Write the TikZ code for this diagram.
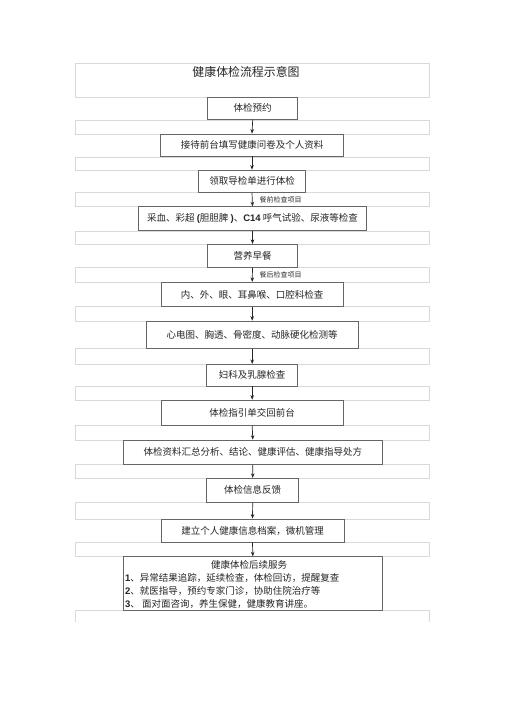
\documentclass[tikz,border=0pt]{standalone}
\usepackage{fontspec}
\setmainfont{Noto Sans CJK SC}
\newfontfamily\latinb{Liberation Sans}
\usetikzlibrary{arrows.meta}
\begin{document}
\begin{tikzpicture}[x=1bp,y=-1bp,
  bgrow/.style={draw=black!15,line width=0.8bp},
  stepbox/.style={draw=black!60,line width=0.8bp,fill=white,inner sep=0pt,
     font=\fontsize{9.5bp}{11bp}\selectfont,text=black!85},
  flow/.style={draw=black!85,line width=0.7bp,-{Stealth[length=4.5bp,width=3.6bp]}},
  note/.style={inner sep=0pt,anchor=west,font=\fontsize{7bp}{8bp}\selectfont,text=black!80},
  txt/.style={inner sep=0pt,font=\fontsize{9.5bp}{11bp}\selectfont,text=black!85}]
\useasboundingbox (0,0) rectangle (505,714);
% background table rows
\draw[bgrow] (75.7,63.3) rectangle (429,97.3);
\foreach \a/\b in {120.7/134,157.7/170,192.3/206.7,231.7/244.3,267.3/282.3,306.7/321,348.7/364.3,386/400,425.7/440,464.3/478.3,502.3/519,542/556.7}
  \draw[bgrow] (75.7,\a) rectangle (429,\b);
\draw[bgrow] (75.7,621.7) -- (75.7,610.7) -- (429,610.7) -- (429,621.7);
% title
\node[inner sep=0pt,font=\fontsize{11.9bp}{13bp}\selectfont,text=black!85] (title) at (246,71.5) {健康体检流程示意图};
% boxes
\node[stepbox,minimum width=90bp,minimum height=22bp] (b1) at (252.7,108.3) {体检预约};
\node[stepbox,minimum width=182.6bp,minimum height=22bp] (b2) at (252,145) {接待前台填写健康问卷及个人资料};
\node[stepbox,minimum width=106.6bp,minimum height=22.3bp] (b3) at (252,181.2) {领取导检单进行体检};
\node[stepbox,minimum width=228.4bp,minimum height=24bp] (b4) at (252.5,218.7) {采血、彩超 {\latinb\bfseries (}胆胆脾 {\latinb\bfseries )}、{\latinb\bfseries C14} 呼气试验、尿液等检查};
\node[stepbox,minimum width=90.4bp,minimum height=23bp] (b5) at (252.5,255.8) {营养早餐};
\node[stepbox,minimum width=182.3bp,minimum height=24.4bp] (b6) at (252.2,294.5) {内、外、眼、耳鼻喉、口腔科检查};
\node[stepbox,minimum width=212.3bp,minimum height=27.7bp] (b7) at (252.2,334.9) {心电图、胸透、骨密度、动脉硬化检测等};
\node[stepbox,minimum width=91bp,minimum height=21.7bp] (b8) at (252.2,375.2) {妇科及乳腺检查};
\node[stepbox,minimum width=182.3bp,minimum height=25.7bp] (b9) at (252.2,412.9) {体检指引单交回前台};
\node[stepbox,minimum width=259bp,minimum height=24.3bp] (b10) at (252.8,452.2) {体检资料汇总分析、结论、健康评估、健康指导处方};
\node[stepbox,minimum width=92bp,minimum height=24bp] (b11) at (252.7,490.3) {体检信息反馈};
\node[stepbox,minimum width=183bp,minimum height=23bp] (b12) at (252.5,530.5) {建立个人健康信息档案，微机管理};
\node[stepbox,minimum width=259bp,minimum height=54bp] (b13) at (252.8,583.7) {};
% follow-up contents
\node[txt] (f0) at (249,565) {健康体检后续服务};
\node[txt,anchor=west] (f1) at (125,577.5) {{\latinb\bfseries 1}、异常结果追踪，延续检查，体检回访，提醒复查};
\node[txt,anchor=west] (f2) at (125,590.5) {{\latinb\bfseries 2}、就医指导，预约专家门诊，协助住院治疗等};
\node[txt,anchor=west] (f3) at (125,604) {{\latinb\bfseries 3}、 面对面咨询，养生保健，健康教育讲座。};
% arrows
\foreach \p/\q in {b1/b2,b2/b3,b3/b4,b4/b5,b5/b6,b6/b7,b7/b8,b8/b9,b9/b10,b10/b11,b11/b12,b12/b13}
  \draw[flow] (\p.south) -- (\q.north);
% arrow notes
\node[note] (n1) at (259.5,200.3) {餐前检查项目};
\node[note] (n2) at (259.5,275.3) {餐后检查项目};
\end{tikzpicture}
\end{document}
